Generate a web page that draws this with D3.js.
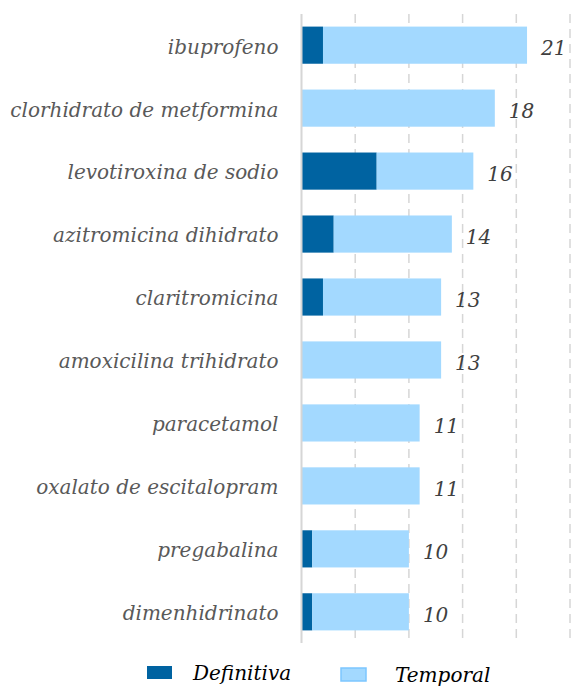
<!DOCTYPE html>
<html>
<head>
<meta charset="utf-8">
<script src="https://cdn.jsdelivr.net/npm/d3@7"></script>
<style>
  body { margin: 0; background: #fff; }
  svg { display: block; }
</style>
</head>
<body>
<svg id="chart" width="571" height="686"></svg>
<script>
// data
const categories = [
    "ibuprofeno", "clorhidrato de metformina", "levotiroxina de sodio",
    "azitromicina dihidrato", "claritromicina", "amoxicilina trihidrato",
    "paracetamol", "oxalato de escitalopram", "pregabalina", "dimenhidrinato"
];
const definitiva = [2, 0, 7, 3, 2, 0, 0, 0, 1, 1];
const temporal   = [19, 18, 9, 11, 11, 13, 11, 11, 9, 9];
const seriesNames = ["Definitiva", "Temporal"];
const gridTicks = [0, 5, 10, 15, 20, 25];

const colors = { Definitiva: "#0063a1", Temporal: "#a3d9ff" };
const serif = "'DejaVu Serif', serif";

const svg = d3.select("#chart");
const plotLeft = 301.5, plotTop = 14, plotBottom = 643;

const x = d3.scaleLinear().domain([0, 25]).range([plotLeft, plotLeft + 25 * 10.74]);
const y = d3.scaleBand().domain(categories).range([plotTop, plotBottom])
    .paddingInner(0.41).paddingOuter(0.2);

const rows = categories.map((c, i) => ({
    cat: c, Definitiva: definitiva[i], Temporal: temporal[i]
}));
const stacked = d3.stack().keys(seriesNames)(rows);

// gridlines
svg.append("g").selectAll("line")
    .data(gridTicks.slice(1))
    .join("line")
    .attr("x1", d => x(d)).attr("x2", d => x(d))
    .attr("y1", plotTop).attr("y2", plotBottom)
    .attr("stroke", "#d6d6d6").attr("stroke-width", 1.5)
    .attr("stroke-dasharray", "9,6");

// bars
svg.append("g").selectAll("g")
    .data(stacked)
    .join("g")
    .attr("fill", d => colors[d.key])
    .selectAll("rect")
    .data(d => d)
    .join("rect")
    .attr("x", d => x(d[0]))
    .attr("y", d => y(d.data.cat))
    .attr("width", d => x(d[1]) - x(d[0]))
    .attr("height", y.bandwidth());

// category axis
const yAxis = svg.append("g")
    .attr("transform", `translate(${plotLeft},0)`)
    .call(d3.axisLeft(y).tickSize(0).tickPadding(23));
yAxis.select(".domain").remove();
yAxis.append("line")
    .attr("y1", plotTop).attr("y2", plotBottom)
    .attr("stroke", "#d6d6d6").attr("stroke-width", 2);
yAxis.selectAll(".tick text")
    .attr("dy", "0.42em")
    .attr("font-family", serif).attr("font-style", "italic")
    .attr("font-size", 20).attr("fill", "#595959");

// totals
svg.append("g").selectAll("text")
    .data(rows)
    .join("text")
    .attr("x", d => x(d.Definitiva + d.Temporal) + 14)
    .attr("y", d => y(d.cat) + y.bandwidth() / 2 + 3)
    .attr("dy", "0.35em")
    .attr("font-family", serif).attr("font-style", "italic")
    .attr("font-size", 20).attr("fill", "#404040")
    .text(d => d.Definitiva + d.Temporal);

// legend
const legendX = [147, 341];
const legendY = [666, 668];
const legend = svg.append("g").selectAll("g")
    .data(seriesNames)
    .join("g")
    .attr("transform", (d, i) => `translate(${legendX[i]},${legendY[i]})`);
legend.append("rect")
    .attr("width", 25).attr("height", 13)
    .attr("fill", d => colors[d])
    .attr("stroke", d => d === "Temporal" ? "#7cc6ff" : "none")
    .attr("stroke-width", 1.5);
legend.append("text")
    .attr("x", (d, i) => i === 0 ? 46 : 54)
    .attr("y", (d, i) => i === 0 ? 14 : 14)
    .attr("font-family", serif).attr("font-style", "italic")
    .attr("font-size", 20).attr("fill", "#000")
    .text(d => d);
</script>
</body>
</html>
